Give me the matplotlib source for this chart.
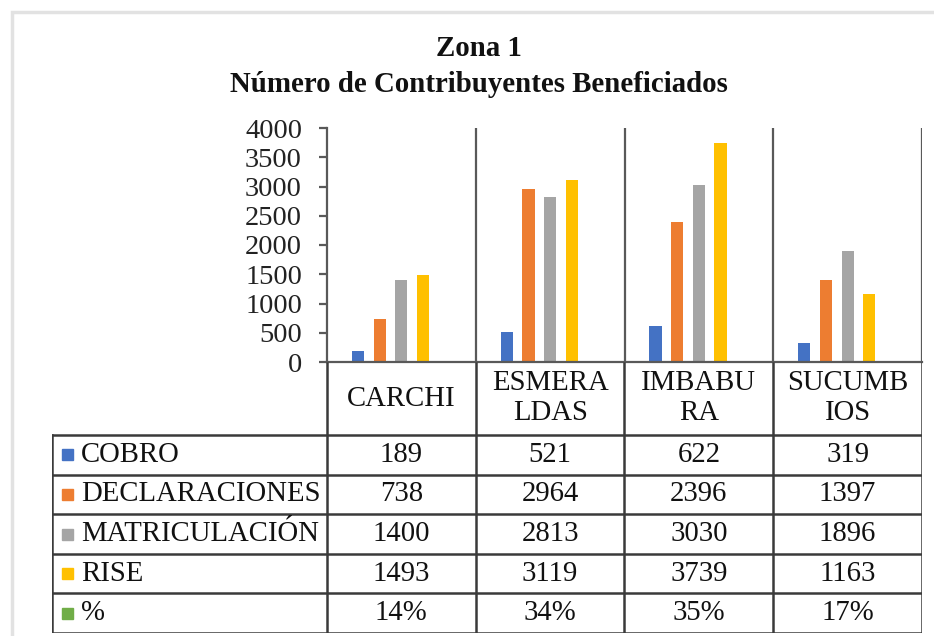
import numpy as np
import matplotlib
matplotlib.use("Agg")
import matplotlib.pyplot as plt
from matplotlib.patches import Rectangle

plt.rcParams['font.family'] = ['Liberation Serif', 'DejaVu Serif']

provincias = ['CARCHI', 'ESMERA\nLDAS', 'IMBABU\nRA', 'SUCUMB\nIOS']
series = ['COBRO', 'DECLARACIONES', 'MATRICULACIÓN', 'RISE', '%']
cobro = [189, 521, 622, 319]
declaraciones = [738, 2964, 2396, 1397]
matriculacion = [1400, 2813, 3030, 1896]
rise = [1493, 3119, 3739, 1163]
porcentaje = [0.14, 0.34, 0.35, 0.17]
colores = ['#4472C4', '#ED7D31', '#A5A5A5', '#FFC000', '#70AD47']

valores = [cobro, declaraciones, matriculacion, rise, porcentaje]
W, H = 934, 636


def fx(px):
    return px / W


def fy(py):
    return 1 - py / H


fig = plt.figure(figsize=(W / 100, H / 100), dpi=100)

# light outer frame of the chart area
fig.patches.append(Rectangle((fx(12), fy(700)), fx(1000), fy(12) - fy(700),
                             transform=fig.transFigure, fill=False,
                             edgecolor='#e2e2e2', lw=2.5))

fig.text(fx(479), fy(49), 'Zona 1', ha='center', va='center',
         fontsize=20.8, fontweight='bold', color='#111111')
fig.text(fx(479), fy(85), 'Número de Contribuyentes Beneficiados',
         ha='center', va='center', fontsize=20.8, fontweight='bold',
         color='#111111')

x0, x1, ytop, yzero, ybot, xleft = 327, 922, 128, 362, 633, 52
ax = fig.add_axes([fx(x0), fy(yzero), fx(x1 - x0), fy(ytop) - fy(yzero)])
ax.set_xlim(0, len(provincias))
ax.set_ylim(0, 4000)
ax.set_yticks(np.arange(0, 4001, 500))
ax.set_xticks([])
line_c = '#595959'
for s in ['top', 'right']:
    ax.spines[s].set_visible(False)
for s in ['left', 'bottom']:
    ax.spines[s].set_color(line_c)
    ax.spines[s].set_linewidth(1.6)
ax.tick_params(axis='y', length=6, width=1.6, color=line_c, labelsize=20.5,
               labelcolor='#222222', pad=12)

pos = np.arange(len(provincias)) + 0.5
step, bw = 0.146, 0.082
for i, (vals, c) in enumerate(zip(valores, colores)):
    ax.bar(pos + (i - 2) * step, vals, width=bw, color=c)
for k in range(1, len(provincias) + 1):
    ax.axvline(k, color=line_c, lw=1.6)

# data table below the plot
cw = (x1 - x0) / len(provincias)
tax = fig.add_axes([fx(xleft), fy(ybot), fx(x1 - xleft), fy(yzero) - fy(ybot)])
tax.set_xlim(-(x0 - xleft) / cw, len(provincias))
tax.set_ylim(ybot, yzero)
tax.axis('off')
tc = '#3a3a3a'
xl = -(x0 - xleft) / cw
row_h = (ybot - 435) / len(series)
rows = [435 + r * row_h for r in range(len(series) + 1)]
for k in range(len(provincias) + 1):
    tax.plot([k, k], [yzero, ybot], color=tc, lw=1.8, solid_capstyle='butt')
tax.plot([xl, xl], [rows[0], ybot], color=tc, lw=1.8)
for yy in rows:
    tax.plot([xl, len(provincias)], [yy, yy], color=tc, lw=1.8)

fs = 20.7
for k, p in enumerate(provincias):
    tax.text(k + 0.5, (yzero + rows[0]) / 2, p, ha='center', va='center',
             fontsize=fs, color='#111111', linespacing=1.2)
sq = 11 / cw
for r, (name, vals, c) in enumerate(zip(series, valores, colores)):
    yc = (rows[r] + rows[r + 1]) / 2
    tax.add_patch(Rectangle((xl + 10 / cw, yc - 5.5), sq, 11, color=c))
    tax.text(xl + 29 / cw, yc, name, ha='left', va='center', fontsize=fs,
             color='#111111')
    for k, v in enumerate(vals):
        txt = f'{round(v * 100)}%' if name == '%' else f'{v}'
        tax.text(k + 0.5, yc, txt, ha='center', va='center', fontsize=fs,
                 color='#111111')

fig.savefig('out.png', dpi=100)
